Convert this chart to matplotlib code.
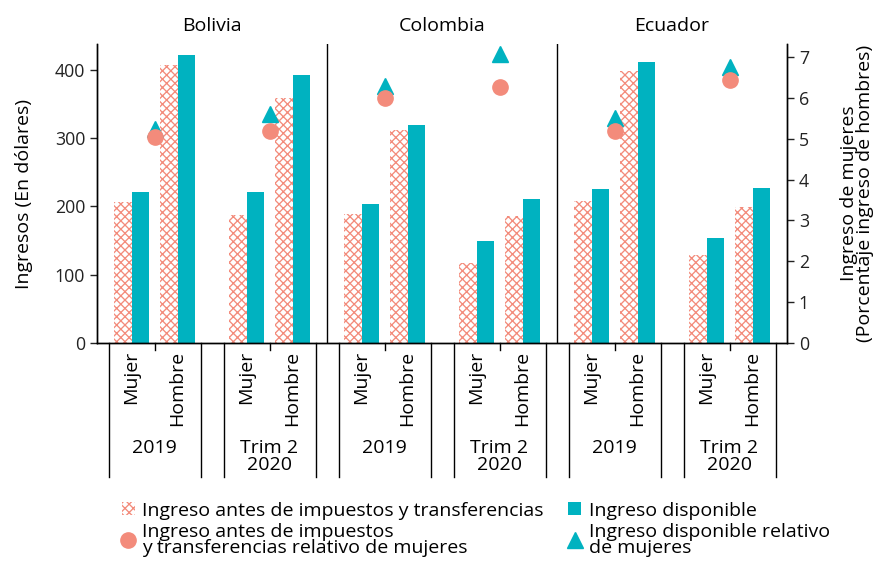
# ingresos de mujeres y hombres: Bolivia, Colombia, Ecuador
import matplotlib.pyplot as plt
import matplotlib.transforms as mtransforms
from matplotlib.patches import Patch
from matplotlib.lines import Line2D

plt.rcParams['font.family'] = ['Open Sans', 'DejaVu Sans']
plt.rcParams['hatch.linewidth'] = 0.95

# datos
paises = ['Bolivia', 'Colombia', 'Ecuador']
periodos = ['2019', 'Trim 2\n2020']
sexos = ['Mujer', 'Hombre']

# orden: pais -> periodo -> (Mujer, Hombre)
ingreso_antes = [206, 408, 187, 359,
                 189, 312, 117, 186,
                 208, 398, 129, 199]
ingreso_disp = [221, 422, 221, 392,
                203, 320, 149, 211,
                225, 411, 154, 227]

# orden: pais -> periodo
relativo_antes = [5.04, 5.2, 6.0, 6.28, 5.18, 6.43]
relativo_disp = [5.25, 5.6, 6.3, 7.07, 5.52, 6.75]

teal = '#00B2C0'
salmon = '#F38B7B'
fs = 14
fs_tick = 12.8
trama = 'xxxx'

# posiciones en el eje x
pos = []
for c in range(len(paises)):
    for p in range(len(periodos)):
        for s in range(len(sexos)):
            pos.append(c * 5 + p * 2.5 + s)
pos_marcas = [c * 5 + p * 2.5 + 0.5 for c in range(3) for p in range(2)]

fig = plt.figure(figsize=(8.74, 5.65), dpi=100)
ax = fig.add_axes([0.111, 0.393, 0.7895, 0.529])
ax2 = ax.twinx()

w = 0.39
ax.bar([x - w / 2 for x in pos], ingreso_antes, width=w, facecolor='white',
       edgecolor=salmon, hatch=trama, linewidth=0)
ax.bar([x + w / 2 for x in pos], ingreso_disp, width=w, color=teal, linewidth=0)

ax2.plot(pos_marcas, relativo_disp, '^', color=teal, markersize=11, clip_on=False)
ax2.plot(pos_marcas, relativo_antes, 'o', color=salmon, markersize=11, clip_on=False)

ax.set_xlim(-0.75, 14.25)
ax.set_ylim(0, 438)
ax2.set_ylim(0, 7.32)
ax.set_yticks([0, 100, 200, 300, 400])
ax2.set_yticks(range(8))
ax.set_xticks([])

for a in (ax, ax2):
    a.spines['top'].set_visible(False)
    a.tick_params(axis='y', labelsize=fs_tick, length=5, width=1, colors='#222222')
    for side in ('left', 'right', 'bottom'):
        a.spines[side].set_linewidth(1)

ax.set_ylabel('Ingresos (En dólares)', fontsize=fs, labelpad=16)
ax2.set_ylabel('Ingreso de mujeres\n(Porcentaje ingreso de hombres)',
               fontsize=fs, labelpad=22, linespacing=0.9)

# separadores de paises
for xd in (4.25, 9.25):
    ax.axvline(xd, color='black', linewidth=1)

trans = mtransforms.blended_transform_factory(ax.transData, ax.transAxes)

# titulos de paises
for c, pais in enumerate(paises):
    ax.text(c * 5 + 1.75, 1.03, pais, transform=trans, ha='center',
            va='bottom', fontsize=fs)

# eje de categorias en dos niveles
for c in range(3):
    for p in range(2):
        ini = c * 5 + p * 2.5 - 0.5
        for xl in (ini, ini + 2):
            ax.plot([xl, xl], [0, -0.448], color='black', linewidth=1,
                    transform=trans, clip_on=False)
        ax.plot([ini + 1, ini + 1], [0, -0.023], color='black', linewidth=1,
                transform=trans, clip_on=False)
        for s in range(2):
            ax.text(ini + 0.5 + s, -0.025, sexos[s], transform=trans,
                    rotation=90, ha='center', va='top', fontsize=fs)
        ax.text(ini + 1, -0.322, periodos[p], transform=trans, ha='center',
                va='top', fontsize=fs, linespacing=0.9)

# leyenda (dos columnas, se llena por columnas)
handles = [Patch(facecolor='white', edgecolor=salmon, hatch=trama, linewidth=0),
           Line2D([], [], marker='o', color=salmon, linestyle='none', markersize=11),
           Patch(facecolor=teal, linewidth=0),
           Line2D([], [], marker='^', color=teal, linestyle='none', markersize=11)]
labels = ['Ingreso antes de impuestos y transferencias',
          'Ingreso antes de impuestos\ny transferencias relativo de mujeres',
          'Ingreso disponible',
          'Ingreso disponible relativo\nde mujeres']
leg = fig.legend(handles, labels, ncol=2, loc='upper left',
                 bbox_to_anchor=(0.1396, 0.112), frameon=False, fontsize=fs,
                 borderpad=0, borderaxespad=0, handlelength=0.65,
                 handleheight=0.65, handletextpad=0.4, columnspacing=1.25,
                 labelspacing=0.15)
for t in leg.get_texts():
    t.set_linespacing(0.85)

fig.savefig('out.png', dpi=100)
